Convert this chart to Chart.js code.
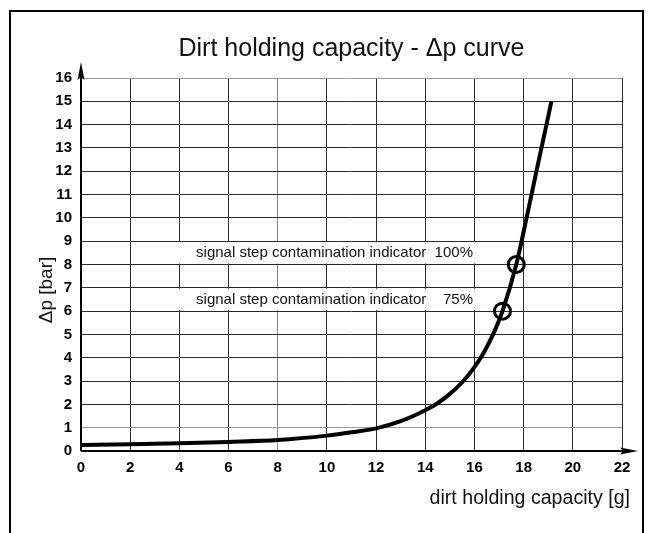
<!DOCTYPE html>
<html>
<head>
<meta charset="utf-8">
<script src="https://cdn.jsdelivr.net/npm/chart.js@4/dist/chart.umd.min.js"></script>
<style>
  html, body { margin: 0; padding: 0; background: #fff; }
  #wrap { width: 653px; height: 533px; position: relative; }
</style>
</head>
<body>
<div id="wrap"><canvas id="c" width="653" height="533"></canvas></div>
<script>
// ---- data ----
const capacity = [0, 2, 4, 6, 8, 10, 11, 12, 13, 14, 14.5, 15, 15.5, 16, 16.4, 16.8, 17.14, 17.7, 18.12, 18.52, 18.93, 19.13];
const deltaP   = [0.26, 0.29, 0.33, 0.39, 0.47, 0.66, 0.8, 0.97, 1.28, 1.75, 2.05, 2.45, 2.95, 3.6, 4.26, 5.1, 6.0, 8.0, 10, 12, 14, 15];
const markerCapacity = [17.14, 17.7];
const markerDeltaP   = [6, 8];
const markerLabels   = ['75%', '100%'];
const annotationText = 'signal step contamination indicator';
const xTicks = [0, 2, 4, 6, 8, 10, 12, 14, 16, 18, 20, 22];
const yTicks = [0, 1, 2, 3, 4, 5, 6, 7, 8, 9, 10, 11, 12, 13, 14, 15, 16];
const chartTitle = 'Dirt holding capacity - Δp curve';
const xTitle = 'dirt holding capacity [g]';
const yTitle = 'Δp [bar]';

const curvePoints = capacity.map((x, i) => ({ x: x, y: deltaP[i] }));
const markerPoints = markerCapacity.map((x, i) => ({ x: x, y: markerDeltaP[i] }));

const textFont = '"Liberation Sans", Arial, sans-serif';
const tickFont = { family: '"Liberation Sans", Arial, sans-serif', size: 15, weight: 'bold' };

const decorPlugin = {
  id: 'decor',
  beforeDraw(chart) {
    const ctx = chart.ctx;
    ctx.save();
    ctx.fillStyle = '#fff';
    ctx.fillRect(0, 0, chart.width, chart.height);
    ctx.strokeStyle = '#000';
    ctx.lineWidth = 2;
    ctx.beginPath();
    ctx.moveTo(10, 545);
    ctx.lineTo(10, 11);
    ctx.lineTo(643, 11);
    ctx.lineTo(643, 545);
    ctx.stroke();
    ctx.restore();
  },
  beforeDatasetsDraw(chart) {
    const ctx = chart.ctx;
    const xs = chart.scales.x, ys = chart.scales.y;
    ctx.save();
    // white label bands and annotation texts
    ctx.font = '15px ' + textFont;
    ctx.textBaseline = 'middle';
    markerDeltaP.forEach((v, i) => {
      const yTop = ys.getPixelForValue(v + 1) + 1;
      const yBot = ys.getPixelForValue(v) - 1;
      const xL = xs.getPixelForValue(3);
      const xR = xs.getPixelForValue(16.6);
      ctx.fillStyle = '#fff';
      ctx.fillRect(xL, yTop, xR - xL, yBot - yTop);
      ctx.fillStyle = '#111';
      const yMid = (yTop + yBot) / 2;
      ctx.textAlign = 'left';
      ctx.fillText(annotationText, xs.getPixelForValue(4.68), yMid);
      ctx.textAlign = 'right';
      ctx.fillText(markerLabels[i], xs.getPixelForValue(15.94), yMid);
    });
    // axes with arrows
    const x0 = xs.getPixelForValue(0), y0 = ys.getPixelForValue(0);
    const xEnd = xs.right, yEnd = ys.top;
    ctx.strokeStyle = '#000';
    ctx.fillStyle = '#000';
    ctx.lineWidth = 2;
    ctx.beginPath();
    ctx.moveTo(x0, y0);
    ctx.lineTo(xEnd + 2, y0);
    ctx.moveTo(x0, y0);
    ctx.lineTo(x0, yEnd - 2);
    ctx.stroke();
    ctx.beginPath();
    ctx.moveTo(xEnd + 16, y0);
    ctx.lineTo(xEnd - 2, y0 - 3.5);
    ctx.lineTo(xEnd + 1, y0);
    ctx.lineTo(xEnd - 2, y0 + 3.5);
    ctx.closePath();
    ctx.fill();
    ctx.beginPath();
    ctx.moveTo(x0, yEnd - 16);
    ctx.lineTo(x0 - 3.5, yEnd + 2);
    ctx.lineTo(x0, yEnd - 1);
    ctx.lineTo(x0 + 3.5, yEnd + 2);
    ctx.closePath();
    ctx.fill();
    // axis titles
    ctx.font = '19.6px ' + textFont;
    ctx.fillStyle = '#111';
    ctx.textAlign = 'right';
    ctx.textBaseline = 'middle';
    ctx.fillText(xTitle, 630, 499);
    ctx.translate(47, 290);
    ctx.rotate(-Math.PI / 2);
    ctx.textAlign = 'center';
    ctx.font = '19px ' + textFont;
    ctx.fillText(yTitle, 0, 0);
    ctx.restore();
  }
};

const lightY = [1, 16];
const lightX = [8];

new Chart(document.getElementById('c'), {
  type: 'scatter',
  data: {
    datasets: [
      {
        data: curvePoints,
        showLine: true,
        borderColor: '#000',
        borderWidth: 4,
        pointRadius: 0,
        cubicInterpolationMode: 'monotone',
        fill: false
      },
      {
        data: markerPoints,
        showLine: false,
        pointStyle: 'circle',
        pointRadius: 8,
        pointBorderWidth: 3,
        pointBorderColor: '#000',
        pointBackgroundColor: 'rgba(0,0,0,0)'
      }
    ]
  },
  plugins: [decorPlugin],
  options: {
    responsive: false,
    animation: false,
    layout: { padding: { left: 0, right: 31, top: 0, bottom: 0 } },
    plugins: {
      legend: { display: false },
      tooltip: { enabled: false },
      title: {
        display: true,
        text: chartTitle,
        fullSize: false,
        color: '#111',
        font: { family: textFont, size: 25, weight: 'normal', lineHeight: 1.2 },
        padding: { top: 34, bottom: 14 }
      }
    },
    scales: {
      x: {
        type: 'linear',
        min: 0,
        max: 22,
        afterFit(s) { s.height = 82; },
        afterBuildTicks(s) { s.ticks = xTicks.map(v => ({ value: v })); },
        border: { display: false },
        grid: {
          drawTicks: false,
          lineWidth: 1,
          color: c => (c.tick && lightX.includes(c.tick.value)) ? '#888' : '#2a2a2a'
        },
        ticks: { color: '#000', padding: 8, font: tickFont }
      },
      y: {
        type: 'linear',
        min: 0,
        max: 16,
        afterFit(s) { s.width = 81; },
        afterBuildTicks(s) { s.ticks = yTicks.map(v => ({ value: v })); },
        border: { display: false },
        grid: {
          drawTicks: false,
          lineWidth: 1,
          color: c => (c.tick && lightY.includes(c.tick.value)) ? '#999' : '#2a2a2a'
        },
        ticks: { color: '#000', padding: 9, font: tickFont }
      }
    }
  }
});
</script>
</body>
</html>
